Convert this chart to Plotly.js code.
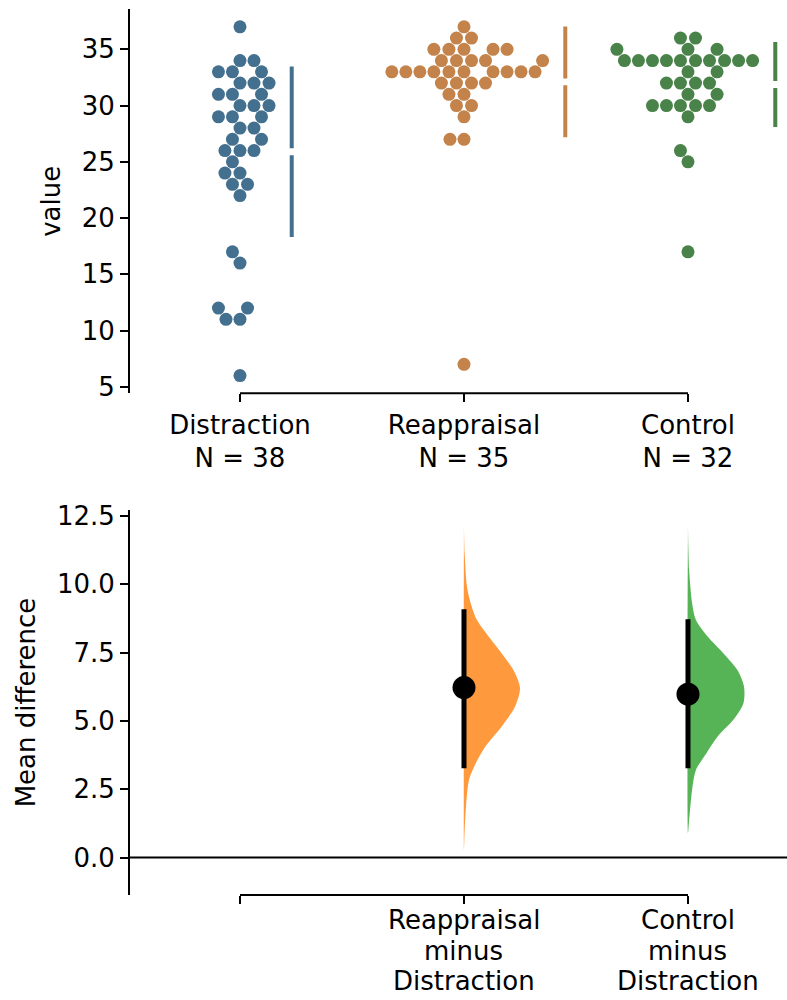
<!DOCTYPE html>
<html>
<head>
<meta charset="utf-8">
<script src="https://cdn.plot.ly/plotly-3.0.1.min.js"></script>
<style>html,body{margin:0;padding:0;background:#fff;}#chart{width:787px;height:1000px;}</style>
</head>
<body>
<div id="chart"></div>
<script>
// ---------------- DATA ----------------
const categories = ['Distraction', 'Reappraisal', 'Control'];
const distraction = [37,34,34,33,33,33,32,32,32,31,31,31,30,30,30,29,29,29,28,28,27,27,26,26,26,25,24,24,23,23,22,17,16,12,12,11,11,6];
const reappraisal = [37,36,36,35,35,35,35,35,34,34,34,34,34,33,33,33,33,33,33,33,33,33,33,32,32,32,32,31,31,30,30,29,27,27,7];
const control = [36,36,35,35,35,34,34,34,34,34,34,34,34,34,34,33,33,32,32,32,32,31,31,30,30,30,30,30,29,26,25,17];

const diffLabelLines = [[], ['Reappraisal', 'minus', 'Distraction'], ['Control', 'minus', 'Distraction']];
const ciLow = [3.27, 3.27];
const ciHigh = [9.09, 8.72];

// bootstrap distribution outlines (value, relative density)
const reappDensY = [0.3, 1.0, 1.99, 2.84, 3.45, 4.06, 4.79, 5.52, 6.2, 6.87, 7.48, 8.09, 8.7, 9.32, 9.92, 11.14, 12.1];
const reappDens  = [0, 0.012, 0.04, 0.09, 0.21, 0.38, 0.67, 0.91, 1.0, 0.88, 0.67, 0.44, 0.23, 0.118, 0.053, 0.012, 0];
const ctrlDensY  = [0.9, 1.37, 2.59, 3.2, 3.82, 4.43, 5.04, 5.65, 6.26, 6.87, 7.48, 8.09, 8.7, 9.31, 10.53, 12.1];
const ctrlDens   = [0, 0.02, 0.08, 0.14, 0.33, 0.53, 0.81, 0.99, 1.0, 0.88, 0.63, 0.35, 0.14, 0.074, 0.02, 0];

const yTicksTop = [5, 10, 15, 20, 25, 30, 35];
const yTicksBot = [0, 2.5, 5, 7.5, 10, 12.5];

// ---------------- STYLE / GEOMETRY ----------------
const W = 787, H = 1000;
const xDom = [130 / W, 1];
const xRange = [-0.491, 2.442];
const topDom = [1 - 393.3 / H, 1 - 9.3 / H];
const botDom = [1 - 895 / H, 1 - 510 / H];
const yRangeTop = [4.42, 38.56];
const yRangeBot = [-1.37, 12.72];
const swarmColors = ['#44708f', '#c3834a', '#498349'];
const violinColors = ['rgba(255,127,14,0.8)', 'rgba(44,160,44,0.8)'];
const FONT = 'DejaVu Sans, sans-serif';
const FS = 26;
const bottomLabelFirstPx = 920, bottomLabelStepPx = 30.5;

const pxPerX = (xDom[1] - xDom[0]) * W / (xRange[1] - xRange[0]);
const pxPerYTop = (topDom[1] - topDom[0]) * H / (yRangeTop[1] - yRangeTop[0]);
const markerR = 6.67;   // collision radius in px
const markerSize = 13;

// seaborn-like beeswarm in pixel space
function beeswarm(vals, pxPerY, r) {
  const pts = vals.map((v, i) => ({ v, y: v * pxPerY, i })).sort((a, b) => a.y - b.y);
  const swarm = [];
  for (const p of pts) {
    if (!swarm.length) { swarm.push({ x: 0, y: p.y, v: p.v }); continue; }
    const neighbors = [];
    for (let j = swarm.length - 1; j >= 0; j--) {
      if (p.y - swarm[j].y < 2 * r) neighbors.unshift(swarm[j]); else break;
    }
    const cands = [0];
    let leftFirst = true;
    for (const n of neighbors) {
      const dy = p.y - n.y;
      const dx = Math.sqrt(Math.max(4 * r * r - dy * dy, 0)) * 1.05;
      if (leftFirst) cands.push(n.x - dx, n.x + dx); else cands.push(n.x + dx, n.x - dx);
      leftFirst = !leftFirst;
    }
    const sorted = cands.map((c, k) => ({ c, k })).sort((a, b) => (Math.abs(a.c) - Math.abs(b.c)) || (a.k - b.k));
    let chosen = 0;
    for (const { c } of sorted) {
      if (neighbors.every(n => (n.x - c) ** 2 + (n.y - p.y) ** 2 >= 4 * r * r - 1e-6)) { chosen = c; break; }
    }
    swarm.push({ x: chosen, y: p.y, v: p.v });
  }
  return swarm;
}

const mean = a => a.reduce((s, v) => s + v, 0) / a.length;
const sd = a => { const m = mean(a); return Math.sqrt(a.reduce((s, v) => s + (v - m) ** 2, 0) / (a.length - 1)); };

const groups = [distraction, reappraisal, control];
const traces = [];
const gapY = 3.4 / pxPerYTop;
groups.forEach((vals, gi) => {
  const sw = beeswarm(vals, pxPerYTop, markerR);
  traces.push({
    type: 'scatter', mode: 'markers', xaxis: 'x', yaxis: 'y',
    x: sw.map(p => gi + p.x / pxPerX), y: sw.map(p => p.v),
    marker: { color: swarmColors[gi], size: markerSize, line: { width: 0 } },
    hoverinfo: 'skip', showlegend: false
  });
  const maxX = Math.max(...sw.map(p => p.x));
  const lx = gi + (maxX + markerR + 16) / pxPerX;
  const m = mean(vals), s = sd(vals);
  traces.push({
    type: 'scatter', mode: 'lines', xaxis: 'x', yaxis: 'y',
    x: [lx, lx, null, lx, lx], y: [m + s, m + gapY, null, m - gapY, m - s],
    line: { color: swarmColors[gi], width: 4 }, hoverinfo: 'skip', showlegend: false
  });
});

// effect sizes
const ctrlMean = mean(distraction);
const diffs = [mean(reappraisal) - ctrlMean, mean(control) - ctrlMean];
const dens = [[reappDensY, reappDens], [ctrlDensY, ctrlDens]];
const halfWidth = 0.25;
dens.forEach(([ys, ds], k) => {
  const pos = k + 1;
  const xs = ds.map(d => pos + d * halfWidth);
  traces.push({
    type: 'scatter', mode: 'lines', xaxis: 'x2', yaxis: 'y2',
    x: xs.concat([pos, pos]), y: ys.concat([ys[ys.length - 1], ys[0]]),
    fill: 'toself', fillcolor: violinColors[k], line: { width: 0, color: violinColors[k], shape: 'spline', smoothing: 0.8 },
    hoverinfo: 'skip', showlegend: false
  });
});
diffs.forEach((d, k) => {
  const pos = k + 1;
  traces.push({
    type: 'scatter', mode: 'lines', xaxis: 'x2', yaxis: 'y2',
    x: [pos, pos], y: [ciLow[k], ciHigh[k]],
    line: { color: 'black', width: 5 }, hoverinfo: 'skip', showlegend: false
  });
});
traces.push({
  type: 'scatter', mode: 'markers', xaxis: 'x2', yaxis: 'y2',
  x: [1, 2], y: diffs, marker: { color: 'black', size: 23 }, hoverinfo: 'skip', showlegend: false
});

const tickLabelsTop = categories.map((c, i) => c + '<br>N = ' + groups[i].length);

const axFont = { family: FONT, size: FS, color: 'black' };
const commonX = {
  domain: xDom, range: xRange, showgrid: false, zeroline: false, showline: false,
  ticks: 'outside', ticklen: 8, tickwidth: 2, tickcolor: 'black', tickfont: axFont,
  tickvals: [0, 1, 2], fixedrange: true
};
const commonY = {
  showgrid: false, zeroline: false, showline: true, linewidth: 2, linecolor: 'black',
  ticks: 'outside', ticklen: 8, tickwidth: 2, tickcolor: 'black', tickfont: axFont, fixedrange: true
};

const annotations = [];
diffLabelLines.forEach((lines, pos) => {
  lines.forEach((t, li) => {
    annotations.push({
      xref: 'x2', yref: 'paper', x: pos, y: 1 - (bottomLabelFirstPx + li * bottomLabelStepPx) / H,
      xanchor: 'center', yanchor: 'middle', text: t, showarrow: false, font: axFont, borderpad: 0
    });
  });
});

const layout = {
  width: W, height: H, margin: { l: 0, r: 0, t: 0, b: 0 },
  paper_bgcolor: 'white', plot_bgcolor: 'white', showlegend: false,
  font: { family: FONT, size: FS, color: 'black' },
  xaxis: Object.assign({}, commonX, { anchor: 'y', ticktext: tickLabelsTop }),
  yaxis: Object.assign({}, commonY, {
    domain: topDom, range: yRangeTop, anchor: 'x', tickvals: yTicksTop,
    title: { text: 'value', font: axFont, standoff: 14 }
  }),
  xaxis2: Object.assign({}, commonX, { anchor: 'y2', ticktext: ['', '', ''] }),
  yaxis2: Object.assign({}, commonY, {
    domain: botDom, range: yRangeBot, anchor: 'x2', tickvals: yTicksBot, tickformat: '.1f',
    title: { text: 'Mean difference', font: axFont, standoff: 14 }
  }),
  annotations: annotations,
  shapes: [
    { type: 'line', xref: 'x', yref: 'paper', x0: 0, x1: 2, y0: topDom[0], y1: topDom[0], line: { color: 'black', width: 2 } },
    { type: 'line', xref: 'x2', yref: 'paper', x0: 0, x1: 2, y0: botDom[0], y1: botDom[0], line: { color: 'black', width: 2 } },
    { type: 'line', xref: 'paper', yref: 'y2', x0: xDom[0], x1: 1, y0: 0, y1: 0, line: { color: 'black', width: 2 } }
  ]
};

Plotly.newPlot('chart', traces, layout, { staticPlot: true, displayModeBar: false });
</script>
</body>
</html>
